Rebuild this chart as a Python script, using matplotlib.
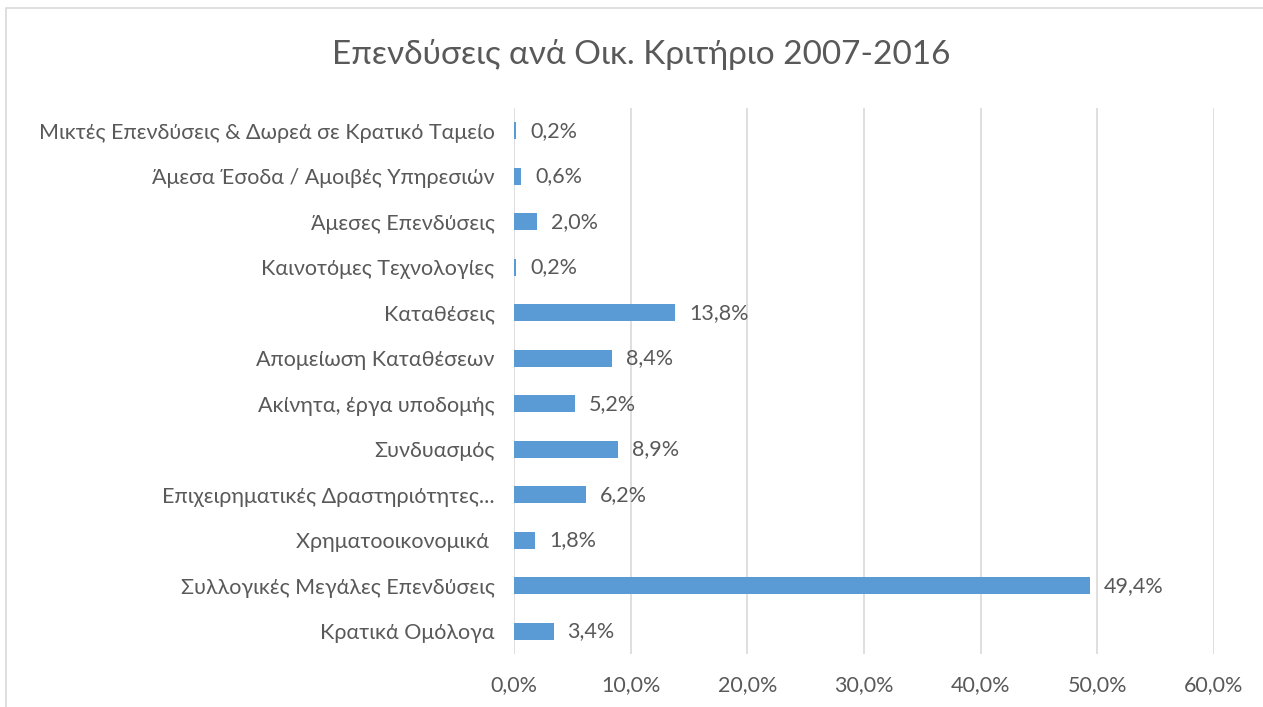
import matplotlib
matplotlib.use("Agg")
import matplotlib.pyplot as plt
from matplotlib.patches import Rectangle
from matplotlib.ticker import FuncFormatter, MultipleLocator

categories = [
    "Μικτές Επενδύσεις & Δωρεά σε Κρατικό Ταμείο",
    "Άμεσα Έσοδα / Αμοιβές Υπηρεσιών",
    "Άμεσες Επενδύσεις",
    "Καινοτόμες Τεχνολογίες",
    "Καταθέσεις",
    "Απομείωση Καταθέσεων",
    "Ακίνητα, έργα υποδομής",
    "Συνδυασμός",
    "Επιχειρηματικές Δραστηριότητες...",
    "Χρηματοοικονομικά ",
    "Συλλογικές Μεγάλες Επενδύσεις",
    "Κρατικά Ομόλογα",
]
values = [0.2, 0.6, 2.0, 0.2, 13.8, 8.4, 5.2, 8.9, 6.2, 1.8, 49.4, 3.4]
title = "Επενδύσεις ανά Οικ. Κριτήριο 2007-2016"

plt.rcParams['font.family'] = ['Lato', 'DejaVu Sans']
text_color = "#595959"
bar_color = "#5B9BD5"
grid_color = "#D9D9D9"

fig = plt.figure(figsize=(12.63, 7.07), dpi=100)
fig.patches.append(Rectangle((6/1263, -0.1), 1.2, 1 - 8/707 + 0.1,
                             transform=fig.transFigure, fill=False,
                             edgecolor="#D9D9D9", linewidth=1.2))
ax = fig.add_axes([514/1263, 1 - 654/707, (1214 - 514)/1263, (654 - 108)/707])

y = list(range(len(categories)))
ax.barh(y, values, height=0.37, color=bar_color, zorder=3)
ax.set_ylim(len(categories) - 0.5, -0.5)
ax.set_xlim(0, 60)
ax.xaxis.set_major_locator(MultipleLocator(10))
ax.xaxis.set_major_formatter(FuncFormatter(lambda v, p: f"{v:.1f}%".replace(".", ",")))
ax.set_yticks(y)
ax.set_yticklabels(categories)
ax.grid(axis="x", color=grid_color, linewidth=1.2, zorder=0)
for s in ax.spines.values():
    s.set_visible(False)
ax.tick_params(axis="both", length=0, colors=text_color, labelsize=15.5)
ax.tick_params(axis="y", pad=14)
ax.tick_params(axis="x", pad=15)

for yi, v in zip(y, values):
    ax.annotate(f"{v:.1f}%".replace(".", ","), (v, yi), xytext=(10, 0),
                textcoords="offset points", va="center", ha="left",
                color=text_color, fontsize=15.5)

fig.text(0.508, 1 - 55/707, title, ha="center", va="center",
         color=text_color, fontsize=24)

fig.savefig("out.png", dpi=100)
